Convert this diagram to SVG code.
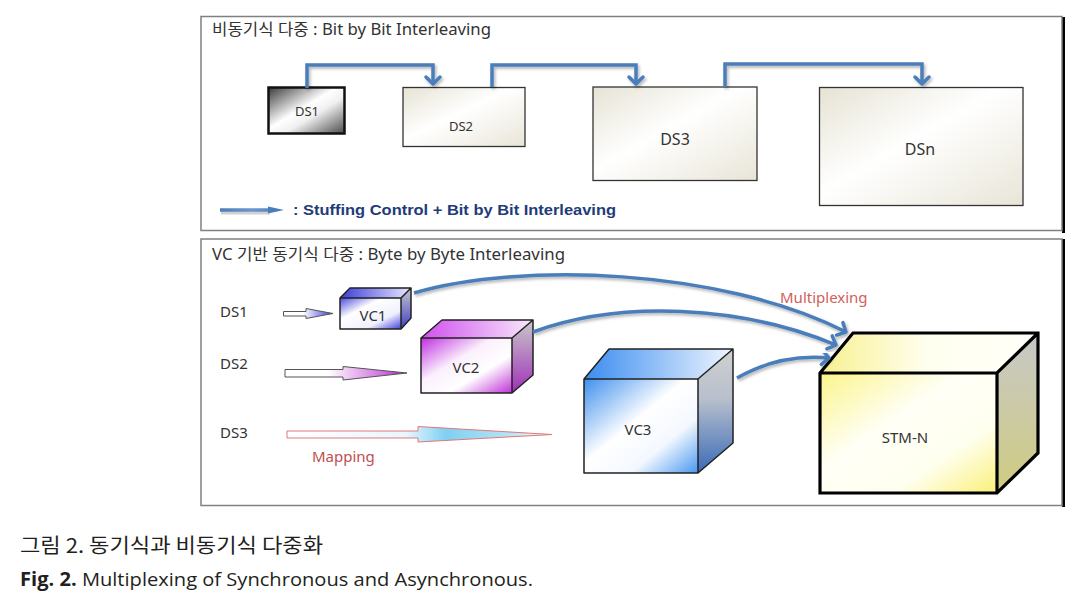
<svg xmlns="http://www.w3.org/2000/svg" width="1085" height="608" viewBox="0 0 1085 608">
<style>
.t{font-family:'Noto Sans','Noto Sans CJK KR',sans-serif;fill:#333}
.lbl{font-size:13px;text-anchor:middle}
.big{font-size:16px;text-anchor:middle}
.conn{fill:none;stroke:#4a7ebb;stroke-width:3.5}
.panel{fill:#fff;stroke:#808080;stroke-width:1.5}
.edge{fill:none;stroke:#222;stroke-width:1.5;stroke-linejoin:round}
</style>
<defs>
<filter id="sh" x="-20%" y="-20%" width="140%" height="140%"><feDropShadow dx="1.5" dy="2" stdDeviation="1.5" flood-color="#000" flood-opacity="0.3"/></filter>
<marker id="chev" viewBox="-10 -10 14 20" markerWidth="14" markerHeight="20" refX="0" refY="0" orient="auto" markerUnits="userSpaceOnUse">
<path d="M-7,-7 L0,0 L-7,7" fill="none" stroke="#4a7ebb" stroke-width="3.5" stroke-linecap="round" stroke-linejoin="round"/>
</marker>
<linearGradient id="gDS1" x1="0" y1="0" x2="1" y2="1"><stop offset="0" stop-color="#3a3a3a"/><stop offset="0.45" stop-color="#ffffff"/><stop offset="0.6" stop-color="#f0f0f0"/><stop offset="1" stop-color="#4a4a4a"/></linearGradient>
<linearGradient id="gDS" x1="0" y1="0" x2="1" y2="1"><stop offset="0" stop-color="#e6e3d4"/><stop offset="0.45" stop-color="#ffffff"/><stop offset="1" stop-color="#e8e5d7"/></linearGradient>
<linearGradient id="gLeg" gradientUnits="userSpaceOnUse" x1="220" y1="0" x2="284" y2="0"><stop offset="0" stop-color="#4a7ebb"/><stop offset="0.5" stop-color="#6e96cc"/><stop offset="1" stop-color="#4a7ebb"/></linearGradient>
<linearGradient id="aBlue" x1="0" y1="0" x2="1" y2="0"><stop offset="0" stop-color="#fff"/><stop offset="0.4" stop-color="#fff"/><stop offset="1" stop-color="#3a3ad8"/></linearGradient>
<linearGradient id="aMag" x1="0" y1="0" x2="1" y2="0"><stop offset="0" stop-color="#fff"/><stop offset="0.35" stop-color="#fff"/><stop offset="0.8" stop-color="#d070e0"/><stop offset="1" stop-color="#b020c0"/></linearGradient>
<linearGradient id="aCyan" x1="0" y1="0" x2="1" y2="0"><stop offset="0" stop-color="#fff"/><stop offset="0.45" stop-color="#e8f6fd"/><stop offset="0.6" stop-color="#7fd0f2"/><stop offset="0.85" stop-color="#b8e4f6"/><stop offset="1" stop-color="#ffffff"/></linearGradient>
<linearGradient id="f1" x1="0" y1="0" x2="1" y2="1"><stop offset="0" stop-color="#4a4ae0"/><stop offset="0.35" stop-color="#fff"/><stop offset="0.7" stop-color="#f0f0ff"/><stop offset="1" stop-color="#4040d8"/></linearGradient>
<linearGradient id="t1" x1="0" y1="0" x2="1" y2="0"><stop offset="0" stop-color="#3c3cd8"/><stop offset="1" stop-color="#e8e8ff"/></linearGradient>
<linearGradient id="r1" x1="0" y1="0" x2="0" y2="1"><stop offset="0" stop-color="#c8c8c8"/><stop offset="1" stop-color="#4040c8"/></linearGradient>
<linearGradient id="f2" x1="0" y1="0" x2="1" y2="1"><stop offset="0" stop-color="#c030e0"/><stop offset="0.4" stop-color="#fbf0fd"/><stop offset="0.65" stop-color="#fff"/><stop offset="1" stop-color="#c030d8"/></linearGradient>
<linearGradient id="t2" x1="0" y1="0" x2="1" y2="0"><stop offset="0" stop-color="#d050ee"/><stop offset="1" stop-color="#f8e8fc"/></linearGradient>
<linearGradient id="r2" x1="0" y1="0" x2="0" y2="1"><stop offset="0" stop-color="#c8c8c8"/><stop offset="1" stop-color="#a030b8"/></linearGradient>
<linearGradient id="f3" x1="0" y1="0" x2="1" y2="1"><stop offset="0" stop-color="#3f90ee"/><stop offset="0.45" stop-color="#fff"/><stop offset="0.7" stop-color="#f4f8ff"/><stop offset="1" stop-color="#4898f0"/></linearGradient>
<linearGradient id="t3" x1="0" y1="0" x2="1" y2="0"><stop offset="0" stop-color="#3a8cf0"/><stop offset="1" stop-color="#f0f6ff"/></linearGradient>
<linearGradient id="r3" x1="0" y1="0" x2="0" y2="1"><stop offset="0" stop-color="#d0d0d0"/><stop offset="0.4" stop-color="#b8c0cc"/><stop offset="1" stop-color="#3a6ab8"/></linearGradient>
<linearGradient id="f4" x1="0" y1="0" x2="1" y2="1"><stop offset="0" stop-color="#fbf48a"/><stop offset="0.4" stop-color="#fffff6"/><stop offset="0.7" stop-color="#fffff0"/><stop offset="1" stop-color="#faf078"/></linearGradient>
<linearGradient id="t4" x1="0" y1="0" x2="1" y2="0"><stop offset="0" stop-color="#f8f090"/><stop offset="0.5" stop-color="#fffff0"/><stop offset="1" stop-color="#fffff8"/></linearGradient>
<linearGradient id="r4" x1="0" y1="0" x2="0" y2="1"><stop offset="0" stop-color="#c8c8c8"/><stop offset="1" stop-color="#cfcc80"/></linearGradient>
</defs>

<rect width="1085" height="608" fill="#fff"/>

<g id="panel-async">
<rect x="1062" y="17" width="3" height="216" fill="#000"/>
<rect x="201" y="16.5" width="861" height="214" class="panel"/>
<text x="212" y="35" class="t" font-size="15.5" textLength="279" lengthAdjust="spacingAndGlyphs">비동기식 다중 : Bit by Bit Interleaving</text>
</g>
<g id="panel-sync">
<rect x="1062" y="239" width="3" height="268" fill="#000"/>
<rect x="201" y="239" width="861" height="266.5" class="panel"/>
<text x="212" y="260" class="t" font-size="15.5" textLength="353" lengthAdjust="spacingAndGlyphs">VC 기반 동기식 다중 : Byte by Byte Interleaving</text>
</g>

<g id="ds1-top"><rect x="268.5" y="87.5" width="76" height="46" fill="url(#gDS1)" stroke="#111" stroke-width="2.5"/><text x="307" y="116" class="t lbl">DS1</text></g>
<g id="ds2-top"><rect x="403" y="87.5" width="122" height="59" fill="url(#gDS)" stroke="#333" stroke-width="1.3"/><text x="461" y="131" class="t lbl">DS2</text></g>
<g id="ds3-top"><rect x="593" y="87" width="164" height="93.5" fill="url(#gDS)" stroke="#333" stroke-width="1.3"/><text x="675" y="145" class="t big">DS3</text></g>
<g id="dsn-top"><rect x="819.5" y="87.5" width="203.5" height="118" fill="url(#gDS)" stroke="#333" stroke-width="1.3"/><text x="920" y="155" class="t big">DSn</text></g>

<g id="legend">
<path d="M221,212.5 H270" stroke="#000" stroke-opacity="0.18" stroke-width="4" fill="none"/>
<path d="M220,210 H270" stroke="url(#gLeg)" stroke-width="3.5" fill="none"/>
<polygon points="268,206.5 284,210 268,213.5" fill="#4a7ebb"/>
<text x="293" y="215" font-family="'Liberation Sans',Arial,sans-serif" font-weight="bold" font-size="15" fill="#1f3c78" textLength="323" lengthAdjust="spacingAndGlyphs">:  Stuffing Control + Bit by Bit Interleaving</text>
</g>

<g id="ds-labels" class="t" font-size="15">
<text x="220" y="317">DS1</text>
<text x="220" y="369">DS2</text>
<text x="220" y="438">DS3</text>
</g>

<g id="map-arrows">
<polygon points="283.5,311.5 306,311.5 306,308.5 333,313.5 306,318.5 306,316 283.5,316" fill="url(#aBlue)" stroke="#555" stroke-width="1"/>
<polygon points="285,369.5 343,369.5 343,366.5 407,373 343,380 343,377 285,377" fill="url(#aMag)" stroke="#555" stroke-width="1"/>
<polygon points="287,431 418,431 418,426.5 552,434.5 418,442 418,438 287,438" fill="url(#aCyan)" stroke="#e07878" stroke-width="1"/>
<text x="312" y="462" font-family="'Noto Sans',sans-serif" font-size="15" fill="#c0504d">Mapping</text>
</g>

<g id="vc1">
<polygon points="340,298 350,288 411,288 401,298" fill="url(#t1)"/>
<polygon points="401,298 411,288 411,318 401,329" fill="url(#r1)"/>
<rect x="340" y="298" width="61" height="31" fill="url(#f1)"/>
<path d="M340,298 L350,288 H411 V318 L401,329 H340 Z M340,298 H401 L411,288 M401,298 V329" class="edge"/>
<text x="373" y="321" class="t" font-size="15" text-anchor="middle">VC1</text>
</g>
<g id="vc2">
<polygon points="421,338 442,320 533,320 512,338" fill="url(#t2)"/>
<polygon points="512,338 533,320 533,375 512,393" fill="url(#r2)"/>
<rect x="421" y="338" width="91" height="55" fill="url(#f2)"/>
<path d="M421,338 L442,320 H533 V375 L512,393 H421 Z M421,338 H512 L533,320 M512,338 V393" class="edge"/>
<text x="466" y="373" class="t" font-size="15" text-anchor="middle">VC2</text>
</g>
<g id="vc3">
<polygon points="584,379 609,349 733,349 698,379" fill="url(#t3)"/>
<polygon points="698,379 733,349 733,443 698,473" fill="url(#r3)"/>
<rect x="584" y="379" width="114" height="94" fill="url(#f3)"/>
<path d="M584,379 L609,349 H733 V443 L698,473 H584 Z M584,379 H698 L733,349 M698,379 V473" class="edge" stroke-width="1.2"/>
<text x="638" y="435" class="t" font-size="15" text-anchor="middle">VC3</text>
</g>
<g id="stm-n">
<polygon points="820,373 853,333 1038,333 997,373" fill="url(#t4)"/>
<polygon points="997,373 1038,333 1038,453 997,493" fill="url(#r4)"/>
<rect x="820" y="373" width="177" height="120" fill="url(#f4)"/>
<path d="M820,373 L853,333 H1038 V453 L997,493 H820 Z M820,373 H997 L1038,333 M997,373 V493" fill="none" stroke="#000" stroke-width="3.2" stroke-linejoin="miter"/>
<text x="905" y="443" class="t" font-size="15" text-anchor="middle">STM-N</text>
</g>

<g id="connectors">
<path d="M307,88 V65 H433 V84" class="conn" marker-end="url(#chev)" filter="url(#sh)"/>
<path d="M492,87 V65 H636 V84" class="conn" marker-end="url(#chev)" filter="url(#sh)"/>
<path d="M725,87 V64 H922 V84" class="conn" marker-end="url(#chev)" filter="url(#sh)"/>
<path d="M414,293 C520,262 720,268 846,332" class="conn" stroke-width="3" marker-end="url(#chev)" filter="url(#sh)"/>
<path d="M533,332 C620,300 740,305 836,345" class="conn" stroke-width="3" marker-end="url(#chev)" filter="url(#sh)"/>
<path d="M737,378 C765,362 795,355 829,358" class="conn" stroke-width="3" marker-end="url(#chev)" filter="url(#sh)"/>
<text x="780" y="303" font-family="'Noto Sans',sans-serif" font-size="15" fill="#d0605a">Multiplexing</text>
</g>

<g id="caption">
<text x="20" y="553" font-family="'Noto Sans CJK KR','Noto Sans',sans-serif" font-size="20" fill="#231f20" textLength="303" lengthAdjust="spacingAndGlyphs">그림 2. 동기식과 비동기식 다중화</text>
<text x="20" y="586" font-family="'Open Sans','Noto Sans',sans-serif" font-size="19" fill="#231f20" textLength="513" lengthAdjust="spacingAndGlyphs"><tspan font-weight="bold">Fig. 2.</tspan> Multiplexing of Synchronous and Asynchronous.</text>
</g>
</svg>
